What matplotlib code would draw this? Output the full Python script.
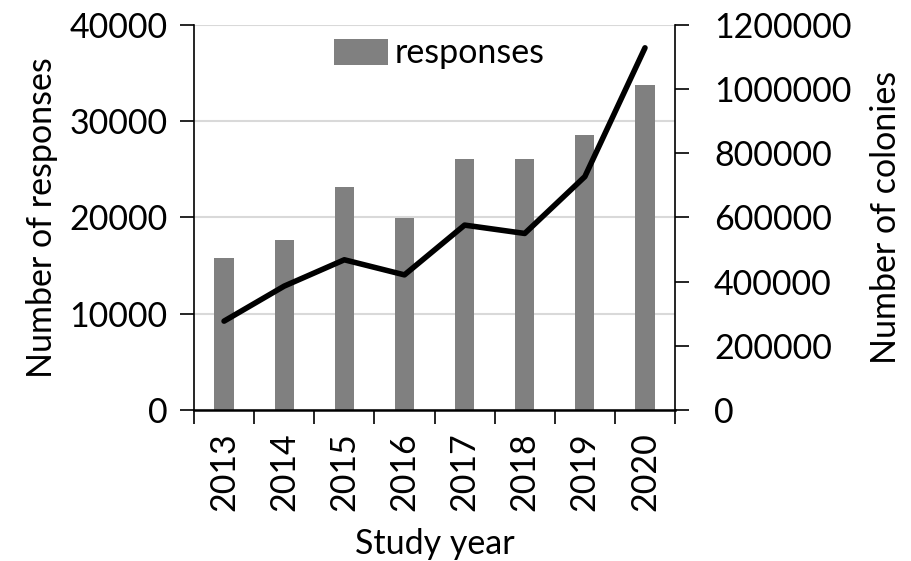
import numpy as np
import matplotlib.pyplot as plt
from matplotlib.ticker import FuncFormatter

plt.rcParams['font.family'] = ['Lato', 'DejaVu Sans']

years = ['2013', '2014', '2015', '2016', '2017', '2018', '2019', '2020']
responses = [15800, 17650, 23200, 19950, 26050, 26100, 28500, 33700]
colonies = [277000, 386000, 468000, 421000, 576000, 550000, 727000, 1128000]

fs = 24.5

fig = plt.figure(figsize=(9.12, 5.61), dpi=100)
ax = fig.add_axes([0.2127, 0.269, 0.5275, 0.687])
x = np.arange(len(years))

ax.bar(x, responses, width=0.32, color='#808080', label='responses', zorder=2)
ax.set_xlim(-0.5, len(years) - 0.5)
ax.set_ylim(0, 40000)
ax.set_yticks([0, 10000, 20000, 30000, 40000])
ax.yaxis.grid(True, color='#d9d9d9', linewidth=1.5, zorder=0)
ax.set_axisbelow(True)

# category labels centred, tick marks between categories
ax.set_xticks(x)
ax.set_xticklabels(years, rotation=90, fontsize=fs)
ax.tick_params(axis='x', length=0, pad=16)
ax.set_xticks(np.arange(-0.5, len(years)), minor=True)
ax.tick_params(axis='x', which='minor', length=10, width=1.2, direction='out')
ax.tick_params(axis='y', labelsize=fs, length=10, width=1.2, direction='out', pad=9)

ax.set_ylabel('Number of responses', fontsize=fs, labelpad=8)
ax.set_xlabel('Study year', fontsize=fs, labelpad=12)

ax.spines['top'].set_visible(False)
ax.spines['right'].set_visible(False)
ax.spines['left'].set_linewidth(1.2)
ax.spines['bottom'].set_linewidth(1.8)

ax2 = ax.twinx()
ax2.plot(x, colonies, color='black', linewidth=4, solid_capstyle='round', zorder=3)
ax2.set_ylim(0, 1200000)
ax2.set_yticks(np.arange(0, 1200001, 200000))
ax2.yaxis.set_major_formatter(FuncFormatter(lambda v, p: '%d' % v))
ax2.tick_params(axis='y', labelsize=fs, length=10, width=1.2, direction='out', pad=18)
ax2.set_ylabel('Number of colonies', fontsize=fs, labelpad=13)
ax2.spines['top'].set_visible(False)
ax2.spines['left'].set_visible(False)
ax2.spines['bottom'].set_visible(False)
ax2.spines['right'].set_linewidth(1.2)

ax.legend(loc='upper center', bbox_to_anchor=(0.51, 1.02), frameon=False,
          fontsize=fs, handlelength=1.6, handleheight=0.8, handletextpad=0.2,
          borderaxespad=0.2)

fig.savefig('out.png', dpi=100)
